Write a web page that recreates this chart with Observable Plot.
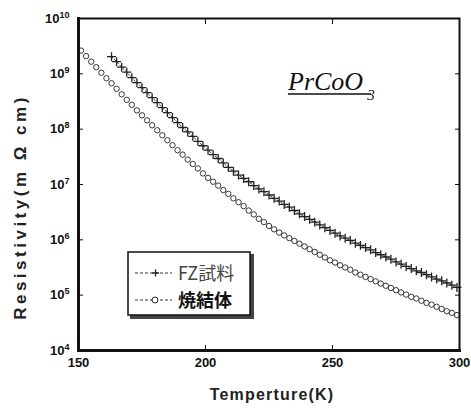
<!DOCTYPE html>
<html><head><meta charset="utf-8">
<script src="https://cdn.jsdelivr.net/npm/d3@7"></script>
<script src="https://cdn.jsdelivr.net/npm/@observablehq/plot@0.6"></script>
<style>
body{margin:0;background:#fff}
#wrap{position:relative;width:471px;height:410px;overflow:hidden;background:#fff}
</style></head><body><div id="wrap"></div>
<script>
// ---- data ----
const tempTicks = [150, 200, 250, 300];
const innerTempTicks = [200, 250];
const decadeTicks = [1e4, 1e5, 1e6, 1e7, 1e8, 1e9, 1e10];
const seriesNames = ["FZ試料", "焼結体"];
const titleMain = "PrCoO", titleSub = "3";
const xLabel = "Temperture(K)", yLabel = "Resistivity(m Ω cm)";

// FZ試料 : temperature (K) and log10 resistivity
const fzT = [163,165,167,169,171,173,175,177,179,181,183,185,187,189,191,193,195,197,199,201,203,205,207,209,211,213,215,217,219,221,223,225,227,229,231,233,235,237,239,241,243,245,247,249,251,253,255,257,259,261,263,265,267,269,271,273,275,277,279,281,283,285,287,289,291,293,295,297,299];
const fzLog = [9.31,9.22,9.12,9.03,8.93,8.84,8.75,8.66,8.57,8.48,8.39,8.30,8.21,8.12,8.03,7.95,7.87,7.78,7.70,7.62,7.54,7.47,7.39,7.31,7.24,7.17,7.11,7.05,6.98,6.92,6.87,6.81,6.75,6.70,6.64,6.59,6.53,6.47,6.42,6.37,6.32,6.27,6.22,6.17,6.12,6.07,6.03,5.99,5.94,5.90,5.86,5.82,5.77,5.73,5.69,5.65,5.60,5.56,5.52,5.48,5.44,5.41,5.37,5.33,5.29,5.26,5.22,5.18,5.14];

// 焼結体 : temperature (K) and log10 resistivity
const sinterT = [151,153,155,157,159,161,163,165,167,169,171,173,175,177,179,181,183,185,187,189,191,193,195,197,199,201,203,205,207,209,211,213,215,217,219,221,223,225,227,229,231,233,235,237,239,241,243,245,247,249,251,253,255,257,259,261,263,265,267,269,271,273,275,277,279,281,283,285,287,289,291,293,295,297,299];
const sinterLog = [9.42,9.32,9.22,9.12,9.02,8.92,8.83,8.73,8.63,8.53,8.44,8.34,8.25,8.16,8.07,7.98,7.89,7.80,7.71,7.62,7.54,7.45,7.37,7.29,7.20,7.12,7.05,6.98,6.90,6.83,6.75,6.68,6.61,6.53,6.46,6.38,6.32,6.25,6.19,6.13,6.08,6.03,5.98,5.93,5.88,5.83,5.78,5.73,5.68,5.63,5.59,5.54,5.50,5.46,5.41,5.37,5.33,5.29,5.25,5.21,5.17,5.13,5.09,5.05,5.01,4.97,4.94,4.90,4.86,4.83,4.79,4.75,4.71,4.68,4.64];

const fzData = fzT.map((t, i) => ({t, rho: Math.pow(10, fzLog[i])}));
const sinterData = sinterT.map((t, i) => ({t, rho: Math.pow(10, sinterLog[i])}));

const FONT = "'Liberation Sans', Arial, sans-serif";

const chart = Plot.plot({
  width: 471, height: 410,
  marginLeft: 78, marginRight: 12, marginTop: 18, marginBottom: 60,
  style: {fontFamily: FONT, fontSize: "13px", fontWeight: "bold", background: "#fff", color: "#111"},
  x: {domain: [150, 300], label: null},
  y: {type: "log", domain: [1e4, 1e10], label: null},
  marks: [
    Plot.axisX(tempTicks, {anchor: "bottom", tickSize: 0, tickPadding: 7, tickFormat: d => String(d), label: null}),
    Plot.axisX(innerTempTicks, {anchor: "bottom", tickSize: -5, tickFormat: () => "", label: null}),
    Plot.axisX(innerTempTicks, {anchor: "top", tickSize: -5, tickFormat: () => "", label: null}),
    Plot.axisY(decadeTicks, {anchor: "left", tickSize: 0, tickPadding: 9, tickFormat: d => String(Math.round(Math.log10(d))), label: null}),
    Plot.axisY(decadeTicks, {anchor: "left", tickSize: -5, tickFormat: () => "", label: null}),
    Plot.axisY(decadeTicks, {anchor: "right", tickSize: -5, tickFormat: () => "", label: null}),
    Plot.line(fzData, {x: "t", y: "rho", stroke: "#444", strokeWidth: 1, strokeDasharray: "2,2"}),
    Plot.dot(fzData, {x: "t", y: "rho", symbol: "plus", r: 3, stroke: "#222", strokeWidth: 1.3}),
    Plot.dot(sinterData, {x: "t", y: "rho", symbol: "circle", r: 2.7, stroke: "#222", fill: "white", strokeWidth: 0.9}),
    Plot.frame({stroke: "#111", strokeWidth: 2}),
    Plot.frame({anchor: "left", stroke: "#111", strokeWidth: 3}),
    Plot.frame({anchor: "bottom", stroke: "#111", strokeWidth: 3})
  ]
});
document.getElementById("wrap").appendChild(chart);

const svg = d3.select(chart);
// superscript exponents on y tick labels
svg.selectAll('g[aria-label="y-axis tick label"] text').each(function() {
  const e = this.textContent;
  if (!e) return;
  const t = d3.select(this);
  t.text("10");
  t.append("tspan").attr("dy", "-0.55em").attr("font-size", "9px").text(e);
});

// axis titles
svg.append("text").attr("x", 272).attr("y", 400).attr("text-anchor", "middle")
  .attr("font-family", FONT).attr("font-weight", "bold").attr("font-size", "16px")
  .attr("letter-spacing", "1.2px").attr("fill", "#222").text(xLabel);
svg.append("text").attr("transform", "translate(26,207) rotate(-90)").attr("text-anchor", "middle")
  .attr("font-family", FONT).attr("font-weight", "bold").attr("font-size", "17px")
  .attr("letter-spacing", "3.5px").attr("fill", "#222").text(yLabel);

// compound title
const title = svg.append("text").attr("x", 288).attr("y", 90).attr("text-anchor", "start")
  .attr("font-family", "'Liberation Serif', 'DejaVu Serif', serif").attr("font-style", "italic")
  .attr("font-weight", "normal").attr("font-size", "26px").attr("fill", "#111");
title.append("tspan").text(titleMain);
title.append("tspan").attr("dy", "10").attr("dx", "4").attr("font-size", "15px").text(titleSub);
svg.append("line").attr("x1", 288).attr("x2", 371).attr("y1", 94).attr("y2", 94).attr("stroke", "#111").attr("stroke-width", 1.5);

// legend
const lg = svg.append("g");
lg.append("rect").attr("x", 130).attr("y", 254).attr("width", 124).attr("height", 65).attr("fill", "#444");
lg.append("rect").attr("x", 128).attr("y", 252).attr("width", 122).attr("height", 63).attr("fill", "#fff").attr("stroke", "#111").attr("stroke-width", 1.5);
const rows = [273, 300];
rows.forEach((ry, i) => {
  lg.append("line").attr("x1", 135).attr("x2", 172).attr("y1", ry).attr("y2", ry).attr("stroke", "#333").attr("stroke-width", 1).attr("stroke-dasharray", "3,2");
  if (i === 0) {
    lg.append("path").attr("d", "M152,273h7M155.5,269.5v7").attr("stroke", "#222").attr("stroke-width", 1.3);
  } else {
    lg.append("circle").attr("cx", 155).attr("cy", 300).attr("r", 3).attr("fill", "#fff").attr("stroke", "#222").attr("stroke-width", 1);
  }
  lg.append("text").attr("x", 178).attr("y", ry + 7).attr("text-anchor", "start")
    .attr("font-family", "'Noto Sans CJK JP', 'Noto Sans', sans-serif")
    .attr("font-size", "18px").attr("font-weight", i === 0 ? "normal" : "bold")
    .attr("fill", i === 0 ? "#444" : "#111").text(seriesNames[i]);
});
</script></body></html>
